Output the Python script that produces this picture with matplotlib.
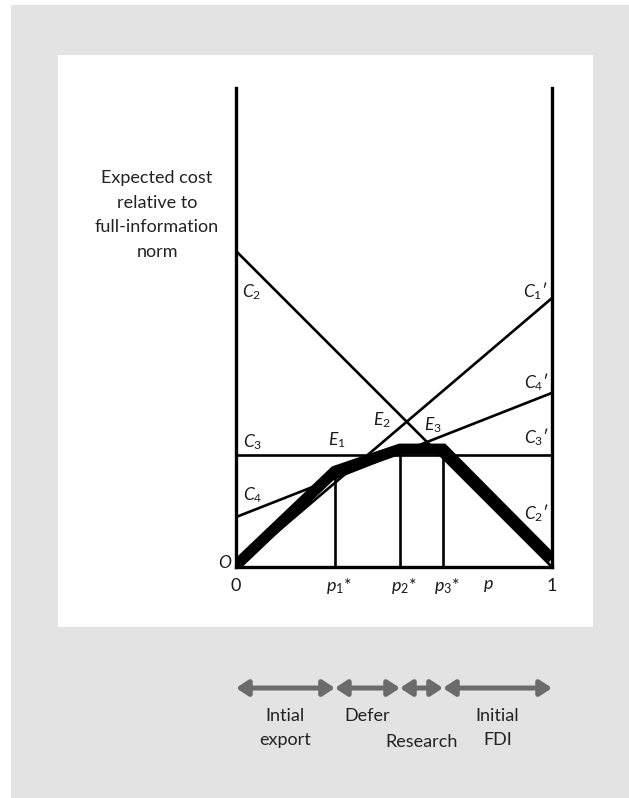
import numpy as np
import matplotlib
matplotlib.use("Agg")
import matplotlib.pyplot as plt
from matplotlib.patches import Rectangle, FancyArrowPatch

# cost lines, value at p=0 and p=1
p_ends = [0.0, 1.0]
c1 = [0.0, 0.851]
c2 = [1.0, 0.0]
c3 = [0.354, 0.354]
c4 = [0.158, 0.551]

# switching points p1*, p2*, p3*
p_star = [0.313, 0.519, 0.655]

# minimum expected cost path (heavy line)
env_p = [0.0, 0.313, 0.519, 0.655, 1.0]
env_y = [0.005, 0.303, 0.373, 0.373, 0.025]

tick_pos = [0.0, 0.313, 0.519, 0.655, 0.80, 1.0]
tick_txt = ['0', r'$p_1$*', r'$p_2$*', r'$p_3$*', r'$p$', '1']

regions = [('Intial\nexport', 'top'), ('Defer', 'top'),
           ('Research', 'bottom'), ('Initial\nFDI', 'top')]

FONT = ['Lato', 'DejaVu Sans']
plt.rcParams['font.family'] = FONT
plt.rcParams['mathtext.fontset'] = 'custom'
plt.rcParams['mathtext.rm'] = 'Lato'
plt.rcParams['mathtext.it'] = 'Lato:italic'

W, H = 629, 798
fig = plt.figure(figsize=(W / 100, H / 100), dpi=100)
fig.patch.set_facecolor('white')

# grey page and white panel
fig.patches.append(Rectangle((11 / W, 0), 1 - 11 / W, 793 / H, transform=fig.transFigure,
                             facecolor='#e3e3e3', edgecolor='none', zorder=-2))
fig.patches.append(Rectangle((58 / W, (H - 627) / H), 535 / W, 572 / H, transform=fig.transFigure,
                             facecolor='white', edgecolor='none', zorder=-1))

x0, x1, yb, yt = 236, 552, 567, 88
unit = x1 - x0
ax = fig.add_axes([x0 / W, (H - yb) / H, unit / W, (yb - yt) / H])
ax.set_xlim(0, 1)
ax.set_ylim(0, (yb - yt) / unit)
ax.patch.set_alpha(0)
ax.spines['top'].set_visible(False)
for side in ['left', 'right', 'bottom']:
    ax.spines[side].set_linewidth(2.4)
ax.set_xticks([])
ax.set_yticks([])

lw = 1.9
for c in [c1, c2, c3, c4]:
    ax.plot(p_ends, c, color='black', lw=lw, solid_capstyle='butt')

for p in p_star:
    ax.plot([p, p], [0, np.interp(p, env_p, env_y)], color='black', lw=lw)

ax.plot(env_p, env_y, color='black', lw=8, solid_joinstyle='miter',
        solid_capstyle='butt', zorder=5)

lab = dict(fontsize=12.5, ha='center', va='center', color='#1a1a1a')
ax.text(0.05, 0.87, r'$C_2$', **lab)
ax.text(0.054, 0.396, r'$C_3$', **lab)
ax.text(0.054, 0.228, r'$C_4$', **lab)
ax.text(0.32, 0.402, r'$E_1$', **lab)
ax.text(0.462, 0.465, r'$E_2$', **lab)
ax.text(0.623, 0.449, r'$E_3$', **lab)
ax.text(0.947, 0.873, r"$C_1$′", **lab)
ax.text(0.952, 0.585, r"$C_4$′", **lab)
ax.text(0.952, 0.411, r"$C_3$′", **lab)
ax.text(0.952, 0.171, r"$C_2$′", **lab)
ax.text(-0.035, 0.013, r'$O$', clip_on=False, **lab)

ax.text(-0.25, 1.114, 'Expected cost\nrelative to\nfull-information\nnorm',
        fontsize=13, ha='center', va='center', multialignment='center',
        linespacing=1.68, color='#222222')

for p, t in zip(tick_pos, tick_txt):
    off = 0.012 if '*' in t else 0.0
    ax.text(p + off, -0.06, t, fontsize=13, ha='center', va='center', color='#1a1a1a')

# strategy ranges under the chart
bounds = [0.0] + p_star + [1.0]
y_arr = -0.383
for i, (txt, row) in enumerate(regions):
    a, b = bounds[i], bounds[i + 1]
    arr = FancyArrowPatch((a, y_arr), (b, y_arr),
                          arrowstyle='<|-|>,head_length=7,head_width=4.6',
                          mutation_scale=1, lw=3.6, color='#6b6b6b',
                          shrinkA=0, shrinkB=0, clip_on=False)
    ax.add_patch(arr)
    ty = -0.445 if row == 'top' else -0.53
    ax.text((a + b) / 2, ty, txt, fontsize=13, ha='center', va='top',
            linespacing=1.68, color='#222222')

fig.savefig('out.png', dpi=100)
